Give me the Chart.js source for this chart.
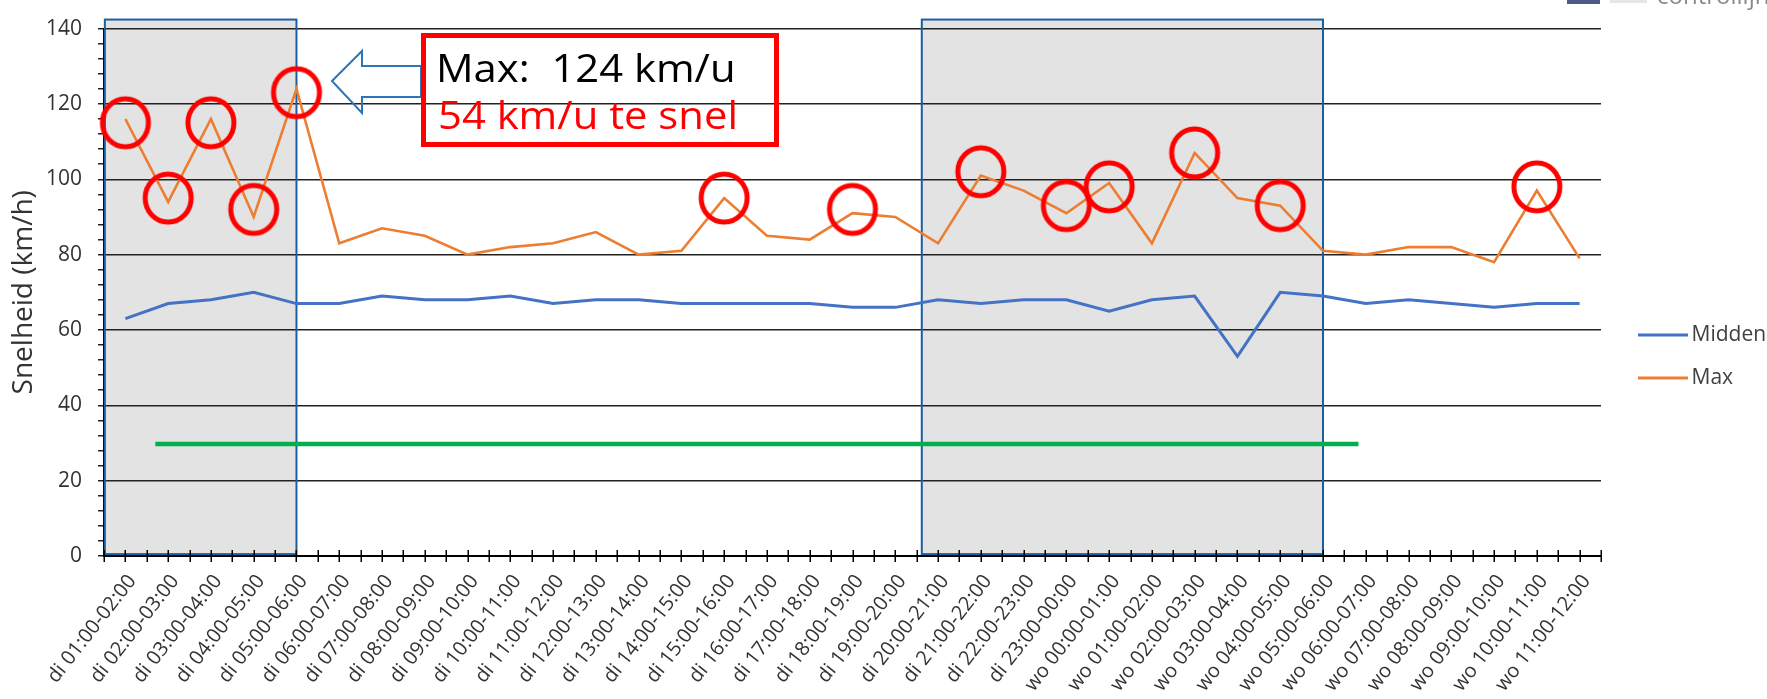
<!DOCTYPE html>
<html>
<head>
<meta charset="utf-8">
<script src="https://cdn.jsdelivr.net/npm/chart.js@4.4.1/dist/chart.umd.min.js"></script>
<style>
html,body{margin:0;padding:0;background:#fff;}
#wrap{width:1767px;height:699px;position:relative;}
</style>
</head>
<body>
<div id="wrap"><canvas id="c"></canvas></div>
<script>
// ---------- DATA ----------
const categories = [
  "di 01:00-02:00","di 02:00-03:00","di 03:00-04:00","di 04:00-05:00","di 05:00-06:00",
  "di 06:00-07:00","di 07:00-08:00","di 08:00-09:00","di 09:00-10:00","di 10:00-11:00",
  "di 11:00-12:00","di 12:00-13:00","di 13:00-14:00","di 14:00-15:00","di 15:00-16:00",
  "di 16:00-17:00","di 17:00-18:00","di 18:00-19:00","di 19:00-20:00","di 20:00-21:00",
  "di 21:00-22:00","di 22:00-23:00","di 23:00-00:00","wo 00:00-01:00","wo 01:00-02:00",
  "wo 02:00-03:00","wo 03:00-04:00","wo 04:00-05:00","wo 05:00-06:00","wo 06:00-07:00",
  "wo 07:00-08:00","wo 08:00-09:00","wo 09:00-10:00","wo 10:00-11:00","wo 11:00-12:00"
];
const midden = [63,67,68,70,67,67,69,68,68,69,67,68,68,67,67,67,67,66,66,68,67,68,68,65,68,69,53,70,69,67,68,67,66,67,67];
const maxSpeed = [116,94,116,90,124,83,87,85,80,82,83,86,80,81,95,85,84,91,90,83,101,97,91,99,83,107,95,93,81,80,82,82,78,97,79];
// red circles marking high maxima (centre values)
const circleValues = [115,95,115,92,123,null,null,null,null,null,null,null,null,null,95,null,null,92,null,null,102,null,93,98,null,107,null,93,null,null,null,null,null,98,null];
const yTickLabels = [0,20,40,60,80,100,120,140];
// shaded periods in category-index units
const shadedFrom = [-0.48, 18.62];
const shadedTo = [4.0, 28.0];
const shadeTopValue = 142.4;
const shadeBottomValue = 0.5;
// green reference line
const limitFrom = 0.7;
const limitTo = 28.83;
const limitValue = 29.7;
const annotationLines = ["Max:  124 km/u", "54 km/u te snel"];

// ---------- STYLE HELPERS ----------
Chart.defaults.font.family = "'Open Sans', sans-serif";

function ellipseCanvas(){
  const c = document.createElement('canvas');
  c.width = 56; c.height = 58;
  const g = c.getContext('2d');
  g.strokeStyle = '#FF0000'; g.lineWidth = 5;
  g.beginPath(); g.ellipse(28, 29, 23, 24, 0, 0, Math.PI*2); g.stroke();
  return c;
}
function legendLine(color){
  const c = document.createElement('canvas');
  c.width = 72; c.height = 4;
  const g = c.getContext('2d');
  g.fillStyle = color;
  g.fillRect(22, 0.5, 50, 3);
  return c;
}

const BLUE = '#4472C4', ORANGE = '#ED7D31';

const decorPlugin = {
  id: 'decor',
  beforeDraw(chart){
    const {ctx, scales:{x, y}} = chart;
    ctx.save();
    ctx.fillStyle = '#e3e3e3';
    for (let i = 0; i < shadedFrom.length; i++){
      const x0 = x.getPixelForValue(shadedFrom[i]), x1 = x.getPixelForValue(shadedTo[i]);
      const y0 = y.getPixelForValue(shadeTopValue), y1 = y.getPixelForValue(shadeBottomValue);
      ctx.fillRect(x0, y0, x1 - x0, y1 - y0);
    }
    ctx.restore();
  },
  beforeDatasetsDraw(chart){
    const {ctx, scales:{x, y}} = chart;
    ctx.save();
    // band borders
    ctx.strokeStyle = '#1a5fa0'; ctx.lineWidth = 2;
    for (let i = 0; i < shadedFrom.length; i++){
      const x0 = x.getPixelForValue(shadedFrom[i]), x1 = x.getPixelForValue(shadedTo[i]);
      const y0 = y.getPixelForValue(shadeTopValue), y1 = y.getPixelForValue(shadeBottomValue);
      ctx.strokeRect(x0, y0, x1 - x0, y1 - y0);
    }
    // x axis ticks (every half category, crossing the axis)
    ctx.strokeStyle = '#000'; ctx.lineWidth = 1.5;
    const yb = y.getPixelForValue(0);
    ctx.beginPath();
    for (let v = -0.5; v <= categories.length - 0.5 + 1e-6; v += 0.5){
      const px = Math.round(x.getPixelForValue(v)) + 0.25;
      ctx.moveTo(px, yb - 6); ctx.lineTo(px, yb + 6);
    }
    ctx.stroke();
    // green line
    ctx.strokeStyle = '#00B050'; ctx.lineWidth = 4.5;
    ctx.beginPath();
    ctx.moveTo(x.getPixelForValue(limitFrom), y.getPixelForValue(limitValue));
    ctx.lineTo(x.getPixelForValue(limitTo), y.getPixelForValue(limitValue));
    ctx.stroke();
    ctx.restore();
  },
  afterDatasetsDraw(chart){
    const ctx = chart.ctx;
    ctx.save();
    // arrow (outline)
    ctx.strokeStyle = '#2E75B6'; ctx.lineWidth = 2; ctx.lineJoin = 'miter';
    ctx.beginPath();
    ctx.moveTo(332, 81); ctx.lineTo(362, 51); ctx.lineTo(362, 66); ctx.lineTo(421, 66);
    ctx.lineTo(421, 97); ctx.lineTo(362, 97); ctx.lineTo(362, 113); ctx.closePath();
    ctx.stroke();
    // red box
    ctx.strokeStyle = '#FF0000'; ctx.lineWidth = 5;
    ctx.strokeRect(423.5, 35.5, 353, 109);
    // text
    ctx.font = "38px 'Open Sans'";
    ctx.textBaseline = 'alphabetic';
    ctx.textAlign = 'left';
    ctx.save(); ctx.scale(1.1, 1);
    ctx.fillStyle = '#000';
    ctx.fillText(annotationLines[0], 436/1.1, 82);
    ctx.fillStyle = '#FF0000';
    ctx.fillText(annotationLines[1], 438/1.1, 129);
    ctx.restore();
    // cut-off legend entry at top right
    ctx.fillStyle = '#4e5b86'; ctx.fillRect(1567, 0, 33, 4);
    ctx.fillStyle = '#e6e6e6'; ctx.fillRect(1610, 0, 37, 3);
    ctx.fillStyle = '#8a8a8a'; ctx.font = "24px 'Open Sans'";
    ctx.fillText('controllijn', 1657, 4);
    ctx.restore();
  }
};

new Chart(document.getElementById('c'), {
  type: 'line',
  data: {
    labels: categories,
    datasets: [
      { label: 'Midden', data: midden, borderColor: BLUE, backgroundColor: BLUE, borderWidth: 3,
        pointRadius: 0, tension: 0, order: 2, pointStyle: legendLine(BLUE) },
      { label: 'Max', data: maxSpeed, borderColor: ORANGE, backgroundColor: ORANGE, borderWidth: 2.6,
        pointRadius: 0, tension: 0, order: 1, pointStyle: legendLine(ORANGE) },
      { label: 'marks', data: circleValues, showLine: false, pointStyle: ellipseCanvas(),
        pointRadius: 25, borderColor: '#FF0000', backgroundColor: 'rgba(0,0,0,0)', order: 0, clip: false }
    ]
  },
  options: {
    responsive: true,
    maintainAspectRatio: false,
    animation: false,
    events: [],
    layout: { padding: { top: 22, left: 0, right: 0, bottom: 8 } },
    plugins: {
      tooltip: { enabled: false },
      legend: {
        position: 'right',
        maxWidth: 166,
        labels: {
          usePointStyle: true,
          pointStyleWidth: 58,
          padding: 22,
          color: '#404040',
          font: { size: 21 },
          filter: (item) => item.text !== 'marks',
          sort: (a, b) => a.datasetIndex - b.datasetIndex
        }
      }
    },
    scales: {
      x: {
        type: 'category',
        offset: true,
        grid: { display: false },
        border: { display: true, color: '#000', width: 2 },
        ticks: { autoSkip: false, minRotation: 52, maxRotation: 52, padding: 6, labelOffset: 7,
                 color: '#333333', font: { size: 20 } },
        afterFit(s){ s.height = 135; s.paddingLeft = 0; s.paddingRight = 0; }
      },
      y: {
        min: 0, max: 140,
        ticks: { stepSize: 4, autoSkip: false, padding: 16, color: '#333333', font: { size: 21 },
                 callback: (v) => yTickLabels.includes(v) ? String(v) : '' },
        grid: {
          color: (c) => (c.tick && c.tick.value % 20 === 0 && c.tick.value > 0) ? '#222' : 'rgba(0,0,0,0)',
          lineWidth: 1.5, tickColor: '#222', tickWidth: 1.5, tickLength: 6, drawTicks: true
        },
        border: { display: true, color: '#000', width: 2 },
        title: { display: true, text: 'Snelheid (km/h)', color: '#333333', font: { size: 28 },
                 padding: { top: 7, bottom: 0 } },
        afterFit(s){ s.width = 104; }
      }
    }
  },
  plugins: [decorPlugin]
});
</script>
</body>
</html>
